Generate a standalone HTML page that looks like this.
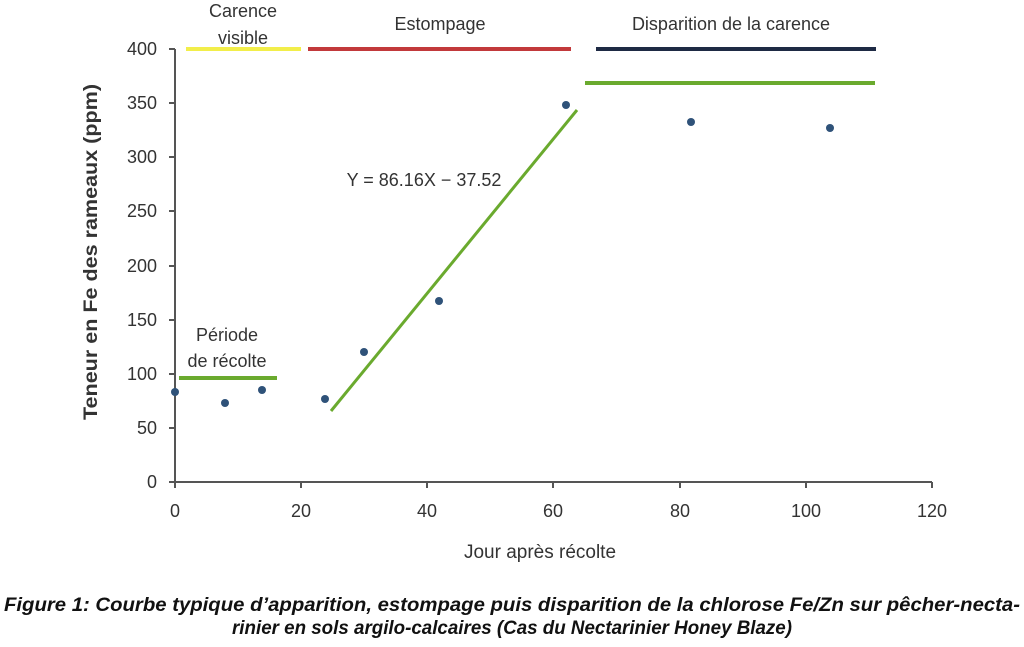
<!DOCTYPE html>
<html><head><meta charset="utf-8"><style>
html,body{margin:0;padding:0;background:#fff;}
svg{display:block;}
text{font-family:"Liberation Sans",sans-serif;fill:#333;}
</style></head><body>
<svg width="1024" height="647" viewBox="0 0 1024 647">
<rect width="1024" height="647" fill="#fff"/>
<g stroke="#555" stroke-width="2" fill="none">
<line x1="175" y1="49" x2="175" y2="482"/>
<line x1="175" y1="482" x2="932" y2="482"/>
<line x1="169" y1="49" x2="175" y2="49"/>
<line x1="169" y1="103" x2="175" y2="103"/>
<line x1="169" y1="157" x2="175" y2="157"/>
<line x1="169" y1="211" x2="175" y2="211"/>
<line x1="169" y1="266" x2="175" y2="266"/>
<line x1="169" y1="320" x2="175" y2="320"/>
<line x1="169" y1="374" x2="175" y2="374"/>
<line x1="169" y1="428" x2="175" y2="428"/>
<line x1="169" y1="482" x2="175" y2="482"/>
<line x1="175" y1="482" x2="175" y2="488"/>
<line x1="301" y1="482" x2="301" y2="488"/>
<line x1="427" y1="482" x2="427" y2="488"/>
<line x1="553" y1="482" x2="553" y2="488"/>
<line x1="680" y1="482" x2="680" y2="488"/>
<line x1="806" y1="482" x2="806" y2="488"/>
<line x1="932" y1="482" x2="932" y2="488"/>
</g>
<g font-size="18" text-anchor="end">
<text x="157" y="55">400</text><text x="157" y="109">350</text><text x="157" y="163">300</text>
<text x="157" y="217">250</text><text x="157" y="272">200</text><text x="157" y="326">150</text>
<text x="157" y="380">100</text><text x="157" y="434">50</text><text x="157" y="488">0</text>
</g>
<g font-size="18" text-anchor="middle">
<text x="175" y="517">0</text><text x="301" y="517">20</text><text x="427" y="517">40</text>
<text x="553" y="517">60</text><text x="680" y="517">80</text><text x="806" y="517">100</text><text x="932" y="517">120</text>
</g>
<text x="540" y="558" font-size="19" text-anchor="middle">Jour après récolte</text>
<text transform="translate(97,252) rotate(-90)" font-size="19" font-weight="bold" text-anchor="middle" textLength="336" lengthAdjust="spacingAndGlyphs">Teneur en Fe des rameaux (ppm)</text>
<g stroke-width="4">
<line x1="186" y1="49" x2="301" y2="49" stroke="#f2ee4a"/>
<line x1="308" y1="49" x2="571" y2="49" stroke="#c2393b"/>
<line x1="596" y1="49" x2="876" y2="49" stroke="#1e2a44"/>
<line x1="585" y1="83" x2="875" y2="83" stroke="#6aaa2e"/>
<line x1="179" y1="378" x2="277" y2="378" stroke="#6aaa2e"/>
</g>
<line x1="331" y1="411" x2="577" y2="110" stroke="#6aaa2e" stroke-width="3"/>
<g fill="#2f5279">
<circle cx="175" cy="392" r="4"/><circle cx="225" cy="403" r="4"/><circle cx="262" cy="390" r="4"/>
<circle cx="325" cy="399" r="4"/><circle cx="364" cy="352" r="4"/><circle cx="439" cy="301" r="4"/>
<circle cx="566" cy="105" r="4"/><circle cx="691" cy="122" r="4"/><circle cx="830" cy="128" r="4"/>
</g>
<g font-size="18" text-anchor="middle">
<text x="243" y="17">Carence</text><text x="243" y="44">visible</text>
<text x="440" y="30">Estompage</text>
<text x="731" y="30">Disparition de la carence</text>
<text x="227" y="341">Période</text><text x="227" y="367">de récolte</text>
<text x="424" y="186">Y = 86.16X − 37.52</text>
</g>
<g font-size="19" font-weight="bold" font-style="italic" text-anchor="middle">
<text x="512" y="611" style="fill:#111" textLength="1016" lengthAdjust="spacingAndGlyphs">Figure 1: Courbe typique d’apparition, estompage puis disparition de la chlorose Fe/Zn sur pêcher-necta-</text>
<text x="512" y="634" style="fill:#111" textLength="560" lengthAdjust="spacingAndGlyphs">rinier en sols argilo-calcaires (Cas du Nectarinier Honey Blaze)</text>
</g>
</svg>
</body></html>
